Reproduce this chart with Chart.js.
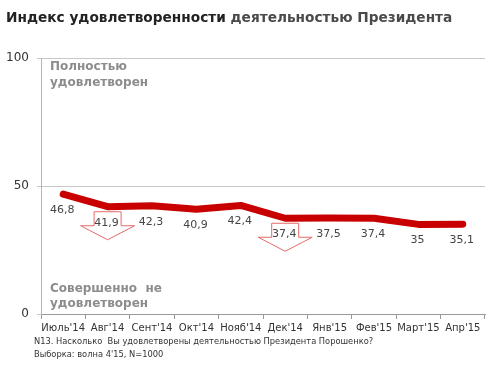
<!DOCTYPE html>
<html>
<head>
<meta charset="utf-8">
<script src="https://cdn.jsdelivr.net/npm/chart.js@4.4.1/dist/chart.umd.min.js"></script>
<style>
  html, body { margin: 0; padding: 0; background: #fff; }
  #wrap { position: relative; width: 500px; height: 366px; }
</style>
</head>
<body>
<div id="wrap"><canvas id="indexChart" width="500" height="366"></canvas></div>
<script>
// Chart data
var months = ["Июль'14", "Авг'14", "Сент'14", "Окт'14", "Нояб'14", "Дек'14", "Янв'15", "Фев'15", "Март'15", "Апр'15"];
var satisfaction = [46.8, 41.9, 42.3, 40.9, 42.4, 37.4, 37.5, 37.4, 35, 35.1];
var yTicks = [0, 50, 100];
var dropMarks = ["Авг'14", "Дек'14"]; // months marked with a down arrow

var titleBold = "Индекс удовлетворенности";
var titleRest = "деятельностью Президента";
var topNote = ["Полностью", "удовлетворен"];
var bottomNote = ["Совершенно  не", "удовлетворен"];
var footnotes = ["N13. Насколько  Вы удовлетворены деятельностью Президента Порошенко?",
                 "Выборка: волна 4'15, N=1000"];

var FONT = "'DejaVu Sans', Verdana, sans-serif";

// Extra drawing: title, notes, arrows, value labels
var decorations = {
    id: 'decorations',
    afterDatasetsDraw: function (chart) {
        var ctx = chart.ctx;
        var x = chart.scales.x, y = chart.scales.y;
        var area = chart.chartArea;
        ctx.save();

        // down arrows
        dropMarks.forEach(function (m) {
            var i = months.indexOf(m);
            var cx = x.getPixelForValue(i);
            var top = y.getPixelForValue(satisfaction[i]) + 5;
            ctx.beginPath();
            ctx.moveTo(cx - 13.5, top);
            ctx.lineTo(cx + 13.5, top);
            ctx.lineTo(cx + 13.5, top + 14);
            ctx.lineTo(cx + 27, top + 14);
            ctx.lineTo(cx, top + 28);
            ctx.lineTo(cx - 27, top + 14);
            ctx.lineTo(cx - 13.5, top + 14);
            ctx.closePath();
            ctx.fillStyle = '#fff';
            ctx.fill();
            ctx.strokeStyle = '#e46a6a';
            ctx.lineWidth = 1;
            ctx.stroke();
        });

        // value labels
        ctx.font = '11px ' + FONT;
        ctx.fillStyle = '#444';
        ctx.textAlign = 'center';
        ctx.textBaseline = 'middle';
        satisfaction.forEach(function (v, i) {
            var px = x.getPixelForValue(i);
            var py = y.getPixelForValue(v);
            ctx.fillText(String(v).replace('.', ','), px - 1, py + 16);
        });

        // notes inside the plot
        ctx.font = 'bold 12px ' + FONT;
        ctx.fillStyle = '#8c8c8c';
        ctx.textAlign = 'left';
        ctx.fillText(topNote[0], area.left + 9, 67);
        ctx.fillText(topNote[1], area.left + 9, 83);
        ctx.fillText(bottomNote[0], area.left + 9, 289);
        ctx.fillText(bottomNote[1], area.left + 9, 304);

        // title
        ctx.textBaseline = 'middle';
        ctx.font = 'bold 13.7px ' + FONT;
        ctx.fillStyle = '#222';
        ctx.fillText(titleBold, 6, 18);
        var w = ctx.measureText(titleBold + ' ').width;
        ctx.fillStyle = '#4a4a4a';
        ctx.fillText(titleRest, 6 + w, 18);

        // footnotes
        ctx.font = '8.3px ' + FONT;
        ctx.fillStyle = '#333';
        ctx.fillText(footnotes[0], 34, 342);
        ctx.fillText(footnotes[1], 34, 355);
        ctx.restore();
    }
};

var ctx = document.getElementById('indexChart').getContext('2d');
var indexChart = new Chart(ctx, {
    type: 'line',
    data: {
        labels: months,
        datasets: [{
            data: satisfaction,
            borderColor: '#c80000',
            borderWidth: 7,
            borderCapStyle: 'round',
            borderJoinStyle: 'round',
            pointRadius: 0,
            tension: 0,
            fill: false
        }]
    },
    options: {
        responsive: false,
        animation: false,
        layout: { padding: { top: 58, right: 15, left: 0, bottom: 0 } },
        plugins: { legend: { display: false }, tooltip: { enabled: false } },
        scales: {
            x: {
                offset: true,
                grid: { drawOnChartArea: false, tickLength: 5, color: '#999', offset: true },
                border: { color: '#999' },
                ticks: { font: { size: 10, family: FONT }, color: '#333', maxRotation: 0, autoSkip: false, padding: 3 },
                afterFit: function (s) { s.height = 52; }
            },
            y: {
                min: 0,
                max: 100,
                afterBuildTicks: function (s) { s.ticks = yTicks.map(function (v) { return { value: v }; }); },
                grid: { color: '#c8c8c8', tickLength: 4 },
                border: { color: '#b4b4b4' },
                ticks: { font: { size: 12, family: FONT }, color: '#333', padding: 8 },
                afterFit: function (s) { s.width = 41; }
            }
        }
    },
    plugins: [decorations]
});
</script>
</body>
</html>
